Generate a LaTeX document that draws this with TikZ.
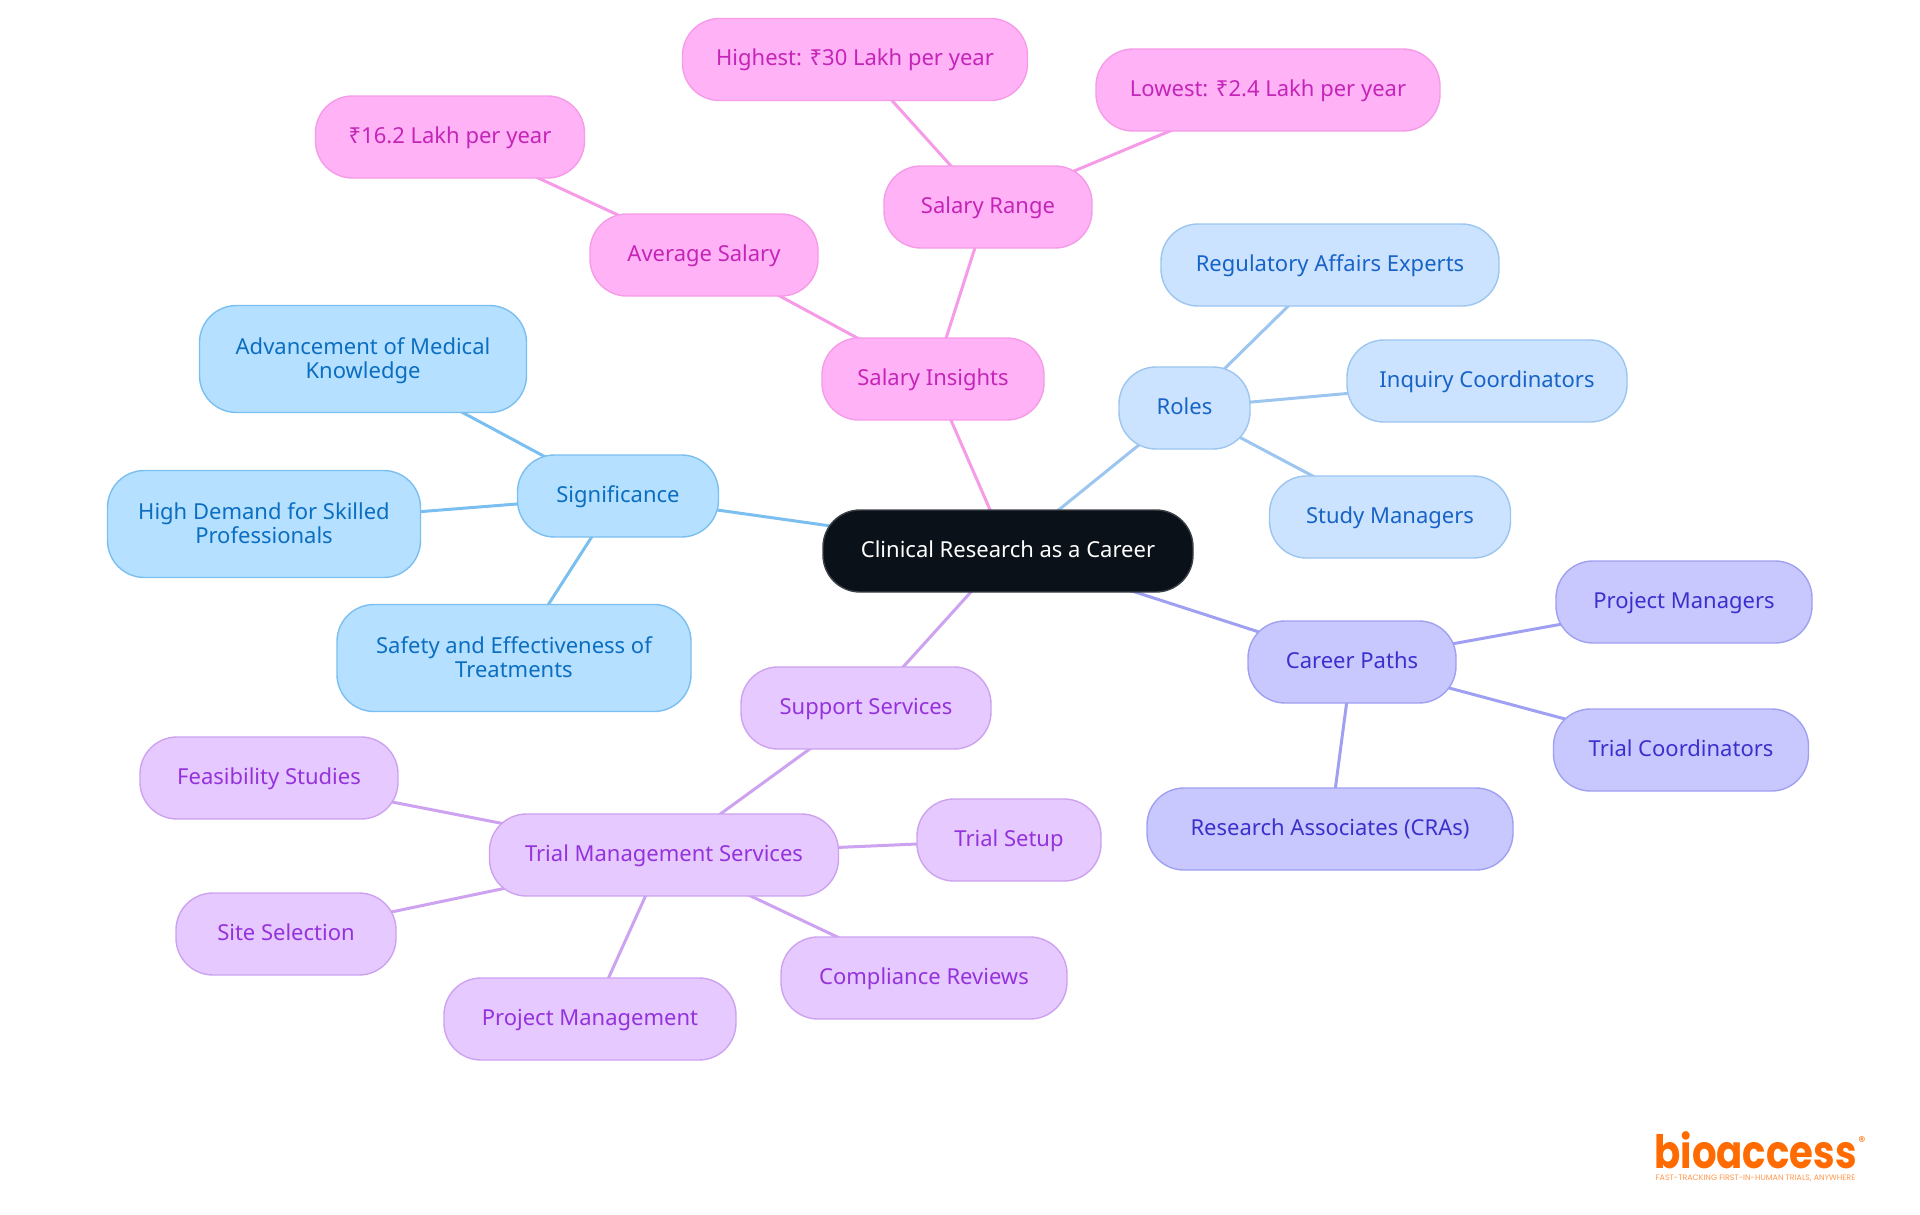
\documentclass[tikz,border=0pt]{standalone}
\usepackage{fontspec}
\setmainfont{Noto Sans}
\newfontfamily\logofont{Poppins}
\usepackage{tikz}
\pgfdeclarelayer{edgelayer}
\pgfsetlayers{edgelayer,main}
\definecolor{pinkfill}{HTML}{FFB3F6}
\definecolor{pinkline}{HTML}{F59BE8}
\definecolor{pinktext}{HTML}{C524B8}
\definecolor{bluefill}{HTML}{B5E0FF}
\definecolor{blueline}{HTML}{7BBFF0}
\definecolor{bluetext}{HTML}{0B6EC0}
\definecolor{skyfill}{HTML}{CCE3FF}
\definecolor{skyline}{HTML}{9CC5F0}
\definecolor{skytext}{HTML}{1763C6}
\definecolor{indigofill}{HTML}{C8C8FF}
\definecolor{indigoline}{HTML}{A0A0F2}
\definecolor{indigotext}{HTML}{3B30CC}
\definecolor{purplefill}{HTML}{E6C9FF}
\definecolor{purpleline}{HTML}{CDA2F0}
\definecolor{purpletext}{HTML}{9432DC}
\definecolor{rootfill}{HTML}{0B1119}
\definecolor{logoorange}{HTML}{FF6B00}
\newcommand{\pillstrut}{\rule[-6pt]{0pt}{24pt}}
\newcommand{\tallstrut}{\rule[-6pt]{0pt}{51pt}}
\tikzstyle{pill}=[rounded corners=37pt,minimum height=82pt,inner sep=0pt,align=center,line width=1.4pt,font=\fontsize{22}{24}\selectfont,execute at begin node=\pillstrut,execute at end node=\pillstrut]
\tikzstyle{twoline}=[minimum height=107pt,execute at begin node=\tallstrut]
\tikzstyle{rootnode}=[pill,draw=rootfill!80!white,fill=rootfill,text=white]
\tikzstyle{pinknode}=[pill,draw=pinkline,fill=pinkfill,text=pinktext]
\tikzstyle{bluenode}=[pill,draw=blueline,fill=bluefill,text=bluetext]
\tikzstyle{skynode}=[pill,draw=skyline,fill=skyfill,text=skytext]
\tikzstyle{indigonode}=[pill,draw=indigoline,fill=indigofill,text=indigotext]
\tikzstyle{purplenode}=[pill,draw=purpleline,fill=purplefill,text=purpletext]
\tikzstyle{pinkedge}=[draw=pinkline,line width=3pt]
\tikzstyle{blueedge}=[draw=blueline,line width=3pt]
\tikzstyle{skyedge}=[draw=skyline,line width=3pt]
\tikzstyle{indigoedge}=[draw=indigoline,line width=3pt]
\tikzstyle{purpleedge}=[draw=purpleline,line width=3pt]
\begin{document}
\begin{tikzpicture}[x=1pt,y=-1pt]
\useasboundingbox (0,0) rectangle (1920,1215);
\node[rootnode,minimum width=370pt] (root) at (1008,551){Clinical Research as a Career};
\node[pinknode,minimum width=222pt] (salary) at (933,379){Salary Insights};
\node[pinknode,minimum width=228pt] (average) at (704,255){Average Salary};
\node[pinknode,minimum width=208pt] (range) at (988,207){Salary Range};
\node[pinknode,minimum width=269pt] (avgvalue) at (450,137){₹16.2 Lakh per year};
\node[pinknode,minimum width=345pt] (highest) at (855,59.5){Highest: ₹30 Lakh per year};
\node[pinknode,minimum width=344pt] (lowest) at (1268,90){Lowest: ₹2.4 Lakh per year};
\node[skynode,minimum width=131pt] (roles) at (1184.5,408){Roles};
\node[skynode,minimum width=338pt] (regulatory) at (1330,265){Regulatory Affairs Experts};
\node[skynode,minimum width=280pt] (inquiry) at (1487,381){Inquiry Coordinators};
\node[skynode,minimum width=241pt] (study) at (1390,517){Study Managers};
\node[bluenode,minimum width=201pt] (significance) at (618,496){Significance};
\node[bluenode,twoline,minimum width=327pt] (advancement) at (363,359){Advancement of Medical\\Knowledge};
\node[bluenode,twoline,minimum width=313pt] (demand) at (264,524){High Demand for Skilled\\Professionals};
\node[bluenode,twoline,minimum width=354pt] (safety) at (514,658){Safety and Effectiveness of\\Treatments};
\node[indigonode,minimum width=208pt] (career) at (1352,662){Career Paths};
\node[indigonode,minimum width=256pt] (managers) at (1684,602){Project Managers};
\node[indigonode,minimum width=255pt] (coordinators) at (1681,750){Trial Coordinators};
\node[indigonode,minimum width=366pt] (associates) at (1330,829){Research Associates (CRAs)};
\node[purplenode,minimum width=250pt] (support) at (866,708){Support Services};
\node[purplenode,minimum width=349pt] (trial) at (664,855){Trial Management Services};
\node[purplenode,minimum width=258pt] (feasibility) at (269,778){Feasibility Studies};
\node[purplenode,minimum width=184pt] (setup) at (1009,840){Trial Setup};
\node[purplenode,minimum width=220pt] (site) at (286,934){Site Selection};
\node[purplenode,minimum width=286pt] (compliance) at (924,978){Compliance Reviews};
\node[purplenode,minimum width=292pt] (project) at (590,1019){Project Management};
\node[text=logoorange,inner sep=0pt,font=\logofont\bfseries\fontsize{46}{46}\selectfont,anchor=base] (logo) at (1755.5,1168){\scalebox{.84}[1]{bioaccess}};
\node[text=logoorange,inner sep=0pt,font=\logofont\fontsize{14}{14}\selectfont] (reg) at (1862,1142){®};
\node[text=logoorange!70!white,inner sep=0pt,font=\logofont\fontsize{7.9}{8}\selectfont] (tagline) at (1755.5,1178){FAST-TRACKING FIRST-IN-HUMAN TRIALS, ANYWHERE};
\begin{pgfonlayer}{edgelayer}
\draw[pinkedge] (root.center)--(salary.center);
\draw[pinkedge] (salary.center)--(average.center);
\draw[pinkedge] (salary.center)--(range.center);
\draw[pinkedge] (average.center)--(avgvalue.center);
\draw[pinkedge] (range.center)--(highest.center);
\draw[pinkedge] (range.center)--(lowest.center);
\draw[skyedge] (root.center)--(roles.center);
\draw[skyedge] (roles.center)--(regulatory.center);
\draw[skyedge] (roles.center)--(inquiry.center);
\draw[skyedge] (roles.center)--(study.center);
\draw[blueedge] (root.center)--(significance.center);
\draw[blueedge] (significance.center)--(advancement.center);
\draw[blueedge] (significance.center)--(demand.center);
\draw[blueedge] (significance.center)--(safety.center);
\draw[indigoedge] (root.center)--(career.center);
\draw[indigoedge] (career.center)--(managers.center);
\draw[indigoedge] (career.center)--(coordinators.center);
\draw[indigoedge] (career.center)--(associates.center);
\draw[purpleedge] (root.center)--(support.center);
\draw[purpleedge] (support.center)--(trial.center);
\draw[purpleedge] (trial.center)--(feasibility.center);
\draw[purpleedge] (trial.center)--(setup.center);
\draw[purpleedge] (trial.center)--(site.center);
\draw[purpleedge] (trial.center)--(compliance.center);
\draw[purpleedge] (trial.center)--(project.center);
\end{pgfonlayer}
\end{tikzpicture}
\end{document}
